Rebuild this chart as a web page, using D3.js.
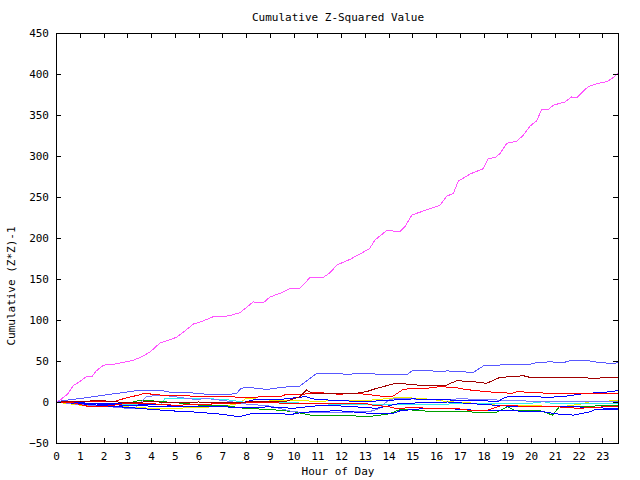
<!DOCTYPE html>
<html>
<head>
<meta charset="utf-8">
<script src="https://cdn.jsdelivr.net/npm/d3@7"></script>
<style>
html,body{margin:0;padding:0;background:#fff;}
svg text{font-family:"DejaVu Sans Mono",monospace;font-size:11px;fill:#000;}
</style>
</head>
<body>
<svg id="chart" width="640" height="480"></svg>
<script>
// ---- data (hour of day, cumulative (Z*Z)-1) ----
const xTicks = d3.range(0, 24);
const yTicks = d3.range(-50, 451, 50);

const pinkHours = [0,0.2,0.5,0.73,1.0,1.29,1.5,1.7,2.0,2.4,2.8,3.25,3.6,3.96,4.38,4.7,5.08,5.4,5.78,6.2,6.62,7.04,7.4,7.75,8.3,8.73,9.0,9.43,9.85,10.27,10.7,11.25,11.54,11.82,12.38,12.8,13.2,13.43,13.92,14.48,14.7,14.98,15.47,16.17,16.45,16.73,16.94,17.43,17.99,18.2,18.48,18.69,18.98,19.4,19.68,19.96,20.24,20.45,20.73,20.94,21.43,21.71,21.94,22.4,22.83,23.19,23.47,23.66];
const pinkValues = [0,3,10,20,25,31,30.5,38,45,46,48,51,55,61,72,75,79,86,95,99,104,104,106,109,122,121,128,132.5,138.6,138.6,152,152,157.7,167,174,180.5,187,197.6,209,208,214,228,233,240,251,254.5,269.5,278,284.5,297,298,303,315.5,318,325.6,336.6,343,357,357,362,366,372,371.5,384.5,388.6,390.6,396,401];

const lightBlueHours = [0,0.3,1.2,2.27,2.97,3.4,4.38,4.8,5.36,5.92,6.35,7.33,7.6,7.8,8.03,8.87,9.57,10.27,10.7,10.98,11.94,12.24,12.66,14.48,14.76,15.04,15.6,16.17,16.45,17.57,17.99,19.25,19.96,20.24,20.8,21.36,21.71,22.46,22.9,23.47,23.66];
const lightBlueValues = [0,1.6,5,9.4,12,14,14.6,11.8,11.8,10.6,9.4,9.4,10.6,16.7,18,15.4,18,19.5,29,35,35,33,35,33,33,39,39,36.5,38,36,44,46,46,48,49,48,51,50,48,47,48];

const darkRedHours = [0,1,2,3,4,5,6,7,8,9,9.6,10.27,10.55,10.8,11.5,12.5,13.07,13.5,14.2,14.7,15.2,16.45,16.87,17.57,18.13,18.69,19.68,19.96,21.36,22.77,23.2,23.66];
const darkRedValues = [0,1,1.5,-1,0.5,-1,0,-1,0,1,0,6.5,14.6,10.6,10.6,10,12.6,16.7,22,22,20.7,20.7,26,24.8,22.8,30,32,30,30,29,30,30];

const redAHours = [0,1,2,2.5,2.9,3.3,3.5,3.68,3.96,4.38,5.64,6.8,8.17,9.5,9.71,10.4,10.96,11.94,12.5,13.07,13.64,14.2,14.62,15.04,15.6,16.17,16.87,17.2,18.1,19.2,19.4,20.24,20.7,21.36,22.5,23.66];
const redAValues = [0,1,1,1,4.5,7.3,8.5,10.6,9.8,8.5,7.3,6.5,5.7,7.3,9.4,9.4,11.8,9.4,10.6,9.4,7.3,7.3,15.4,16.7,16.7,18.7,17.5,15.4,12.6,10.6,12.6,11.4,10.6,10.6,9.8,9.8];

const redBHours = [0,0.7,1.4,2,3,4,5,6,7,8,9,10,11,12,13,13.3,14,14.3,15,16,16.8,17.5,18.2,18.8,19.5,21,22,23.66];
const redBValues = [0,-0.8,-5.7,-5.7,-1.6,-2,-4,-3,-2,-1,-1,-1.6,-1.6,-1.6,-1.6,-3.7,-5.7,-7.7,-7,-7.7,-7.7,-10.6,-9.8,-3.7,-5,-5.7,-7.7,-4.9];

const blueAHours = [0,1,2,3,4,5,6,7,7.7,8,8.3,9.5,9.85,10.1,10.8,11.9,13.2,14.2,14.5,15.5,16.5,17.5,18.5,19.5,20.5,21.2,21.8,22.5,22.7,23.66];
const blueAValues = [0,-2,-4.5,-6.5,-9,-11,-12.5,-15,-18,-16,-13.8,-13.8,-15.9,-13.8,-11.8,-10.6,-13.8,-13.8,-10.6,-8,-8,-9.8,-10.6,-11,-11.8,-15,-16,-11.8,-9,-9];

const blueBHours = [0,1,2,3,4,5,6,7,7.75,8.4,9.5,10.5,10.9,12,13,14.2,15,16.2,17,18,18.6,18.9,19.2,20,20.8,21.5,22.3,23,23.66];
const blueBValues = [0,-1,-2,-2,-3,-4,-3,-2,-1.6,3.3,3.3,6.5,3.3,1.6,0.4,2.4,3.7,3.3,1.6,1.6,0.4,5.7,7.3,6.5,5.7,7.3,10.6,11.4,13.8];

const blueCHours = [0,1,2,3,4,5,6,7,8,9,10,10.6,11.3,12.5,13.5,14.5,15.5,16.5,17.5,18.5,19.5,20.5,21.5,22.5,23.66];
const blueCValues = [0,-1,-3,-4,-5,-5,-5.5,-6,-6.5,-6,-7.7,-5.7,-3.7,-5.7,-7.7,-1.6,-1,0,-2,-4,-6,-6,-5,-7,-7.7];

const lavenderHours = [0,1,2,3,3.3,3.8,4.4,5.0,5.8,6.4,7,8,9,10,11,12,13.2,13.6,14.0,14.3,15,16.2,17,18,19,20,21,22,23.66];
const lavenderValues = [0,-3,-5,-7.7,-7.7,6.5,8.5,6.5,3.3,4,2,-2.4,-5,-12,-13,-12.5,-11.8,-8,2.4,4.5,3.7,2.4,4,3,2,1,0.4,0.4,0.4];

const greenHours = [0,1,2,3,3.6,4.5,5.5,6,7,8,9,10,10.7,12,13.1,14,14.5,15,16,17,18.5,19,19.3,20.3,20.9,21.2,22,23.66];
const greenValues = [0,-1,-3,-1.6,2.4,0.4,-2,-3.7,-4,-8,-9,-11.8,-15.9,-15.9,-18,-14.6,-9,-9.8,-12,-11.8,-13,-5.7,-9.8,-9.8,-15.9,-5.7,-5.7,-3.7];

const cyanHours = [0,1,2,3,4,4.4,4.6,6.5,7.3,8,9,10,11,12,13,14,15,16,17,18,19,20,20.5,21,22,23.66];
const cyanValues = [0,-1,-2,-3,-3,-3,4.5,4,2.4,-0.5,-0.8,-1,-2,-3,-2.9,-3,-2.9,-3,-2,-2.4,-2.4,-1.6,0.4,-2.4,-2.4,-1.6];

const yellowHours = [0,0.5,1,2,3,4,5,6,7,7.7,8,9,10,11,12,13,14.5,15.5,16,16.5,17.3,18.5,19.5,20.5,21.5,22,22.5,23.66];
const yellowValues = [0,-2,-3.7,-5,-6,-7.7,-7.5,-7,-5,-2,4.5,2.4,1.6,1,1.6,1.6,5.7,4,2.4,0.4,-0.8,-3.7,-4.5,-4.9,-4.9,-3,0.4,1.6];

// series table built from the arrays above (draw order)
const series = [
  {hours: yellowHours,    values: yellowValues,    color: "#f0f000"},
  {hours: cyanHours,      values: cyanValues,      color: "#30eeee"},
  {hours: greenHours,     values: greenValues,     color: "#00a000"},
  {hours: lavenderHours,  values: lavenderValues,  color: "#7878ff"},
  {hours: blueCHours,     values: blueCValues,     color: "#0000ff"},
  {hours: blueAHours,     values: blueAValues,     color: "#0000ff"},
  {hours: blueBHours,     values: blueBValues,     color: "#0000ff"},
  {hours: redBHours,      values: redBValues,      color: "#ff0000"},
  {hours: redAHours,      values: redAValues,      color: "#ff0000"},
  {hours: darkRedHours,   values: darkRedValues,   color: "#a00000"},
  {hours: lightBlueHours, values: lightBlueValues, color: "#5858ff"},
  {hours: pinkHours,      values: pinkValues,      color: "#ff55ff"}
];

// ---- layout ----
const mLeft = 56, mRight = 618, mTop = 33, mBottom = 443;
const svg = d3.select("#chart");
const x = d3.scaleLinear().domain([0, 23.66]).range([mLeft, mRight]);
const y = d3.scaleLinear().domain([-50, 450]).range([mBottom, mTop]);

const line = d3.line().x(d => x(d[0])).y(d => y(d[1]));

svg.append("g").selectAll("path")
  .data(series)
  .join("path")
  .attr("d", s => line(d3.zip(s.hours, s.values)))
  .attr("fill", "none")
  .attr("stroke", s => s.color)
  .attr("stroke-width", 1)
  .attr("shape-rendering", "crispEdges");

// axes (ticks drawn inward, gnuplot style, mirrored)
function styleAxis(g) {
  g.selectAll("path.domain").attr("stroke", "#000").attr("stroke-width", 1).attr("shape-rendering", "crispEdges");
  g.selectAll(".tick line").attr("stroke", "#000").attr("shape-rendering", "crispEdges");
  g.selectAll("text").attr("font-family", "DejaVu Sans Mono, monospace").attr("font-size", 11).attr("fill", "#000");
}

svg.append("g").attr("transform", `translate(0,${mBottom})`)
  .call(d3.axisBottom(x).tickValues(xTicks).tickFormat(d3.format("d")).tickSizeInner(-5).tickSizeOuter(0).tickPadding(9))
  .call(styleAxis);
svg.append("g").attr("transform", `translate(0,${mTop})`)
  .call(d3.axisTop(x).tickValues(xTicks).tickFormat("").tickSizeInner(-5).tickSizeOuter(0))
  .call(styleAxis);
svg.append("g").attr("transform", `translate(${mLeft},0)`)
  .call(d3.axisLeft(y).tickValues(yTicks).tickFormat(d3.format("d")).tickSizeInner(-5).tickSizeOuter(0).tickPadding(7))
  .call(styleAxis);
svg.append("g").attr("transform", `translate(${mRight},0)`)
  .call(d3.axisRight(y).tickValues(yTicks).tickFormat("").tickSizeInner(-5).tickSizeOuter(0))
  .call(styleAxis);

// titles
svg.append("text").attr("x", 338).attr("y", 21).attr("text-anchor", "middle")
  .text("Cumulative Z-Squared Value");
svg.append("text").attr("x", 338).attr("y", 475).attr("text-anchor", "middle")
  .text("Hour of Day");
svg.append("text").attr("transform", "translate(15,286) rotate(-90)").attr("text-anchor", "middle")
  .text("Cumulative (Z*Z)-1");
</script>
</body>
</html>
